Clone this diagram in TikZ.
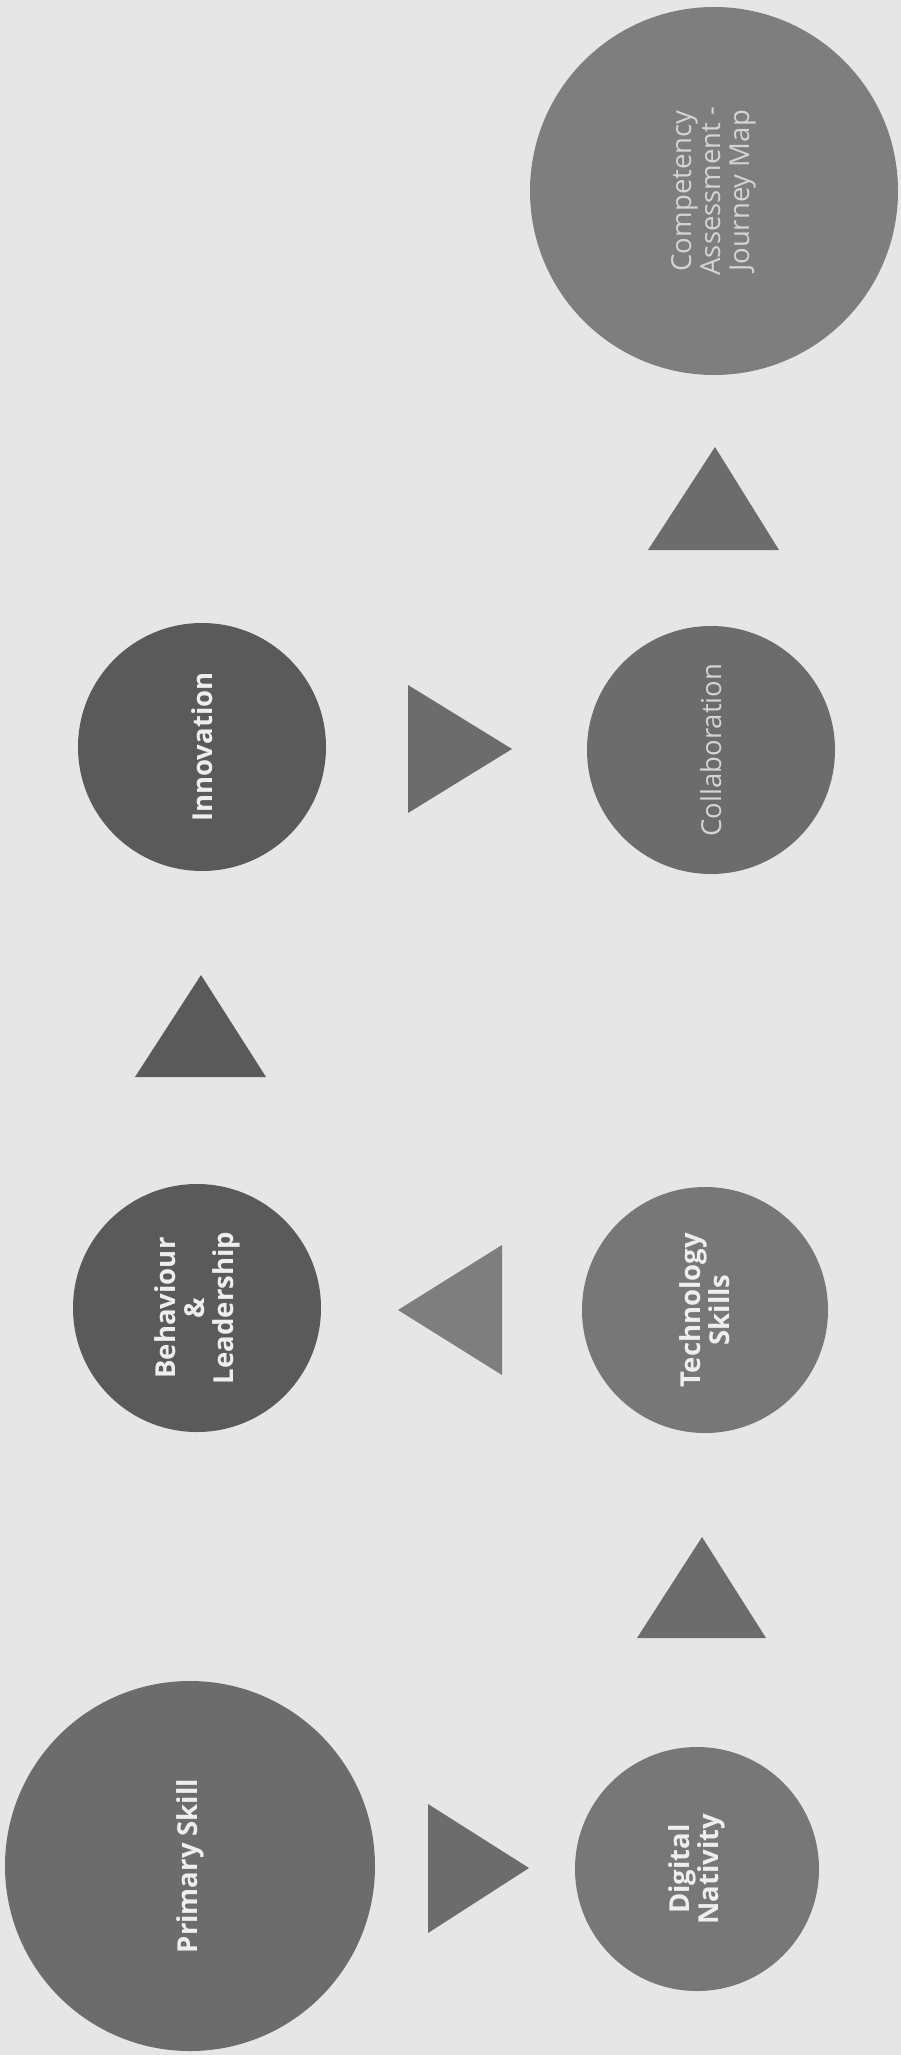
\documentclass[tikz,border=0pt]{standalone}
\usepackage{fontspec}
\setmainfont{Open Sans}
\definecolor{bgc}{HTML}{E6E6E6}
\definecolor{cdark}{HTML}{5A5A5A}
\definecolor{cmid}{HTML}{6C6C6C}
\definecolor{clight}{HTML}{777777}
\definecolor{cpale}{HTML}{7E7E7E}
\definecolor{tboldc}{HTML}{EEEEEE}
\definecolor{tlightc}{HTML}{D4D4D4}
\begin{document}
\begin{tikzpicture}[x=1pt,y=-1pt,
  bubble/.style={circle,inner sep=0pt,rotate=90,align=center,
     font=\fontsize{27.5}{29}\selectfont},
  boldtxt/.style={bubble,text=tboldc,font=\bfseries\fontsize{27.5}{29}\selectfont},
  thintxt/.style={bubble,text=tlightc},
  tri/.style={draw=none}]
\useasboundingbox (0,0) rectangle (901,2055);
\fill[bgc] (0,0) rectangle (901,2055);
% circles
\node[boldtxt,fill=cmid,minimum size=370pt] (ps) at (190,1866) {Primary Skill};
\node[boldtxt,fill=clight,minimum size=244pt] (dn) at (697,1869) {Digital\\Nativity};
\node[boldtxt,fill=clight,minimum size=246pt] (ts) at (705,1310) {Technology\\Skills};
\node[boldtxt,fill=cdark,minimum size=248pt] (bl) at (197,1308) {Behaviour\\\&\\Leadership};
\node[boldtxt,fill=cdark,minimum size=248pt] (inn) at (202,747) {Innovation};
\node[thintxt,fill=cmid,minimum size=248pt] (col) at (711,750) {Collaboration};
\node[thintxt,fill=cpale,minimum size=368pt] (ca) at (714,191) {Competency\\Assessment -\\Journey Map};
% triangles (flow markers)
\fill[tri,fill=cmid] (428,1804) -- (529,1868) -- (428,1933) -- cycle;
\fill[tri,fill=cpale] (502,1245) -- (398,1310) -- (502,1375) -- cycle;
\fill[tri,fill=cmid] (637,1638) -- (702,1537) -- (766,1638) -- cycle;
\fill[tri,fill=cdark] (135,1077) -- (201,975) -- (266,1077) -- cycle;
\fill[tri,fill=cmid] (408,685) -- (512,749) -- (408,813) -- cycle;
\fill[tri,fill=cmid] (648,550) -- (715,447) -- (779,550) -- cycle;
\end{tikzpicture}
\end{document}
